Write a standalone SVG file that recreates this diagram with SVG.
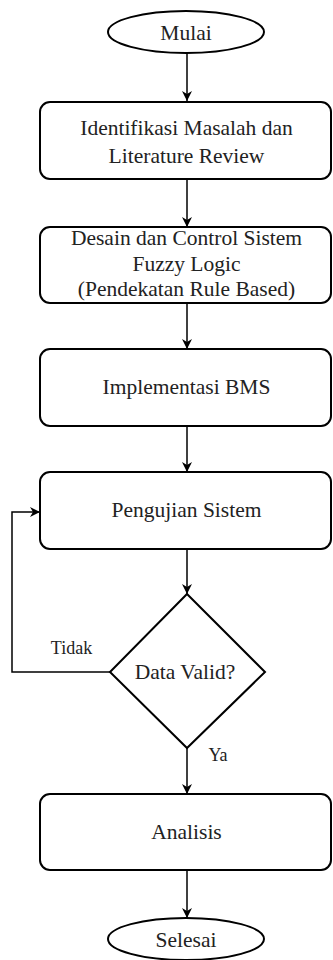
<svg xmlns="http://www.w3.org/2000/svg" width="333" height="960" viewBox="0 0 333 960">
<style>
.s{fill:#fff;stroke:#000;stroke-width:2}
.t{font-family:'Liberation Serif','Times New Roman','DejaVu Serif',serif;font-size:21.5px;fill:#222;text-anchor:middle;dominant-baseline:central}
.l{font-size:18px}
.c{fill:none;stroke:#000;stroke-width:1.5}
</style>
<defs>
<marker id="a" viewBox="0 0 10 10" refX="10" refY="5" markerWidth="10" markerHeight="10" markerUnits="userSpaceOnUse" orient="auto">
<path d="M0,0 L10,5 L0,10 L3,5 Z" fill="#000"/>
</marker>
</defs>
<rect width="333" height="960" fill="#fff"/>
<g id="connectors">
<line class="c" x1="187" y1="53" x2="187" y2="101" marker-end="url(#a)"/>
<line class="c" x1="187" y1="179" x2="187" y2="227" marker-end="url(#a)"/>
<line class="c" x1="187" y1="303" x2="187" y2="349" marker-end="url(#a)"/>
<line class="c" x1="187" y1="426" x2="187" y2="472" marker-end="url(#a)"/>
<line class="c" x1="187" y1="549" x2="187" y2="594" marker-end="url(#a)"/>
<line class="c" x1="187" y1="747" x2="187" y2="794" marker-end="url(#a)"/>
<line class="c" x1="187" y1="870" x2="187" y2="918" marker-end="url(#a)"/>
<polyline class="c" points="110,672 12,672 12,512 40,512" marker-end="url(#a)"/>
<text class="t l" x="71.5" y="648">Tidak</text>
<text class="t l" x="218" y="755">Ya</text>
</g>
<g id="mulai"><ellipse class="s" cx="186" cy="32" rx="78" ry="21"/><text class="t" x="186" y="33">Mulai</text></g>
<g id="identifikasi"><rect class="s" x="40" y="102" width="291" height="77" rx="10"/><text class="t" x="186.5" y="128">Identifikasi Masalah dan</text><text class="t" x="186.5" y="156">Literature Review</text></g>
<g id="desain"><rect class="s" x="40" y="227" width="291" height="76" rx="10"/><text class="t" x="186.5" y="238">Desain dan Control Sistem</text><text class="t" x="186.5" y="264">Fuzzy Logic</text><text class="t" x="186.5" y="289">(Pendekatan Rule Based)</text></g>
<g id="implementasi"><rect class="s" x="40" y="349" width="291" height="77" rx="10"/><text class="t" x="186.5" y="387">Implementasi BMS</text></g>
<g id="pengujian"><rect class="s" x="40" y="472" width="291" height="77" rx="10"/><text class="t" x="186.5" y="510">Pengujian Sistem</text></g>
<g id="valid"><polygon class="s" points="187,594 265,672 187,748 110,672"/><text class="t" x="185" y="672">Data Valid?</text></g>
<g id="analisis"><rect class="s" x="40" y="794" width="291" height="76" rx="10"/><text class="t" x="186.5" y="832">Analisis</text></g>
<g id="selesai"><ellipse class="s" cx="186" cy="939" rx="78" ry="21"/><text class="t" x="186" y="940">Selesai</text></g>
</svg>
